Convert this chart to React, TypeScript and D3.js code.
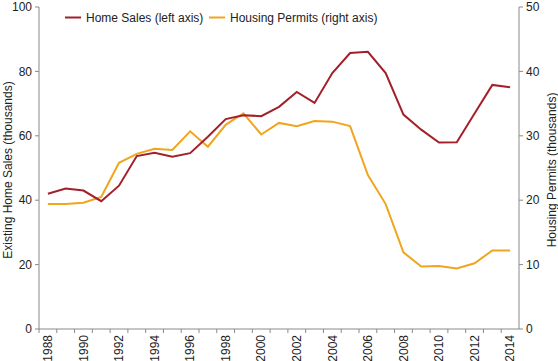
import React, { useRef, useEffect } from 'react';
import * as d3 from 'd3';

const years = d3.range(1988, 2015);
const homeSales = [
  42.0, 43.6, 43.0, 39.7, 44.5, 53.7, 54.7, 53.5, 54.6, 59.7, 65.2, 66.4, 66.1, 69.0,
  73.6, 70.2, 79.5, 85.7, 86.1, 79.5, 66.6, 61.9, 57.9, 58.0, 66.9, 75.8, 75.1,
];
const housingPermits = [
  19.4, 19.4, 19.6, 20.5, 25.8, 27.2, 28.0, 27.8, 30.7, 28.3, 31.7, 33.5, 30.2, 32.0,
  31.5, 32.3, 32.2, 31.5, 23.9, 19.4, 11.9, 9.7, 9.8, 9.4, 10.2, 12.2, 12.2,
];
const leftTicks = [0, 20, 40, 60, 80, 100];
const rightTicks = [0, 10, 20, 30, 40, 50];
const labelYears = years.filter((y) => (y - 1988) % 2 === 0);

const RED = '#a3202a';
const ORANGE = '#f0a51e';
const AXIS = '#8a8a8a';

const App: React.FC = () => {
  const svgRef = useRef<SVGSVGElement | null>(null);

  useEffect(() => {
    const svg = d3.select(svgRef.current);
    svg.selectAll('*').remove();

    const width = 558;
    const height = 361;
    const margin = { top: 7, right: 39, bottom: 32, left: 39 };
    const font = 'Liberation Sans, Arial, sans-serif';

    const x = d3
      .scaleBand<number>()
      .domain(years)
      .range([margin.left, width - margin.right]);
    const yL = d3.scaleLinear().domain([0, 100]).range([height - margin.bottom, margin.top]);
    const yR = d3.scaleLinear().domain([0, 50]).range([height - margin.bottom, margin.top]);
    const cx = (yr: number) => (x(yr) as number) + x.bandwidth() / 2;
    const bottom = height - margin.bottom;

    // left axis
    const left = svg.append('g').attr('transform', `translate(${margin.left},0)`);
    left.append('line').attr('y1', margin.top).attr('y2', bottom).attr('stroke', AXIS);
    leftTicks.forEach((t) => {
      left.append('line').attr('x1', -4).attr('x2', 0).attr('y1', yL(t)).attr('y2', yL(t)).attr('stroke', AXIS);
      left
        .append('text')
        .attr('x', -7)
        .attr('y', yL(t))
        .attr('dy', '0.35em')
        .attr('text-anchor', 'end')
        .style('font', `12px ${font}`)
        .attr('fill', '#222')
        .text(t);
    });

    // right axis
    const right = svg.append('g').attr('transform', `translate(${width - margin.right},0)`);
    right.append('line').attr('y1', margin.top).attr('y2', bottom).attr('stroke', AXIS);
    rightTicks.forEach((t) => {
      right.append('line').attr('x1', 0).attr('x2', 4).attr('y1', yR(t)).attr('y2', yR(t)).attr('stroke', AXIS);
      right
        .append('text')
        .attr('x', 7)
        .attr('y', yR(t))
        .attr('dy', '0.35em')
        .attr('text-anchor', 'start')
        .style('font', `12px ${font}`)
        .attr('fill', '#222')
        .text(t);
    });

    // bottom axis
    const bx = svg.append('g');
    bx.append('line')
      .attr('x1', margin.left)
      .attr('x2', width - margin.right)
      .attr('y1', bottom)
      .attr('y2', bottom)
      .attr('stroke', AXIS);
    years.forEach((yr) => {
      const x0 = x(yr) as number;
      bx.append('line').attr('x1', x0).attr('x2', x0).attr('y1', bottom).attr('y2', bottom + 4).attr('stroke', AXIS);
    });
    labelYears.forEach((yr) => {
      bx.append('text')
        .attr('transform', `translate(${cx(yr)},${bottom + 6}) rotate(-90)`)
        .attr('dy', '0.35em')
        .attr('text-anchor', 'end')
        .style('font', `12px ${font}`)
        .attr('fill', '#222')
        .text(yr);
    });

    // axis titles
    svg.append('text')
      .attr('transform', `translate(11.5,170) rotate(-90)`)
      .attr('text-anchor', 'middle')
      .style('font', `12px ${font}`)
      .attr('fill', '#222')
      .text('Existing Home Sales (thousands)');
    svg.append('text')
      .attr('transform', `translate(555.5,170) rotate(-90)`)
      .attr('text-anchor', 'middle')
      .style('font', `12px ${font}`)
      .attr('fill', '#222')
      .text('Housing Permits (thousands)');

    // lines
    const lineL = d3.line<number>().x((_, i) => cx(years[i])).y((d) => yL(d));
    const lineR = d3.line<number>().x((_, i) => cx(years[i])).y((d) => yR(d));
    svg.append('path').attr('d', lineR(housingPermits)).attr('fill', 'none').attr('stroke', ORANGE).attr('stroke-width', 2);
    svg.append('path').attr('d', lineL(homeSales)).attr('fill', 'none').attr('stroke', RED).attr('stroke-width', 2);

    // legend
    const legend = [
      { label: 'Home Sales (left axis)', color: RED, x: 65 },
      { label: 'Housing Permits (right axis)', color: ORANGE, x: 209 },
    ];
    legend.forEach((l) => {
      svg.append('line')
        .attr('x1', l.x)
        .attr('x2', l.x + 16)
        .attr('y1', 17.5)
        .attr('y2', 17.5)
        .attr('stroke', l.color)
        .attr('stroke-width', 2);
      svg.append('text')
        .attr('x', l.x + 21)
        .attr('y', 17.5)
        .attr('dy', '0.35em')
        .style('font', `12px ${font}`)
        .attr('fill', '#222')
        .text(l.label);
    });
  }, []);

  return (
    <div style={{ position: 'absolute', left: 0, top: 0 }}>
      <svg ref={svgRef} width={558} height={361} style={{ display: 'block', background: '#fff' }} />
    </div>
  );
};

export default App;
